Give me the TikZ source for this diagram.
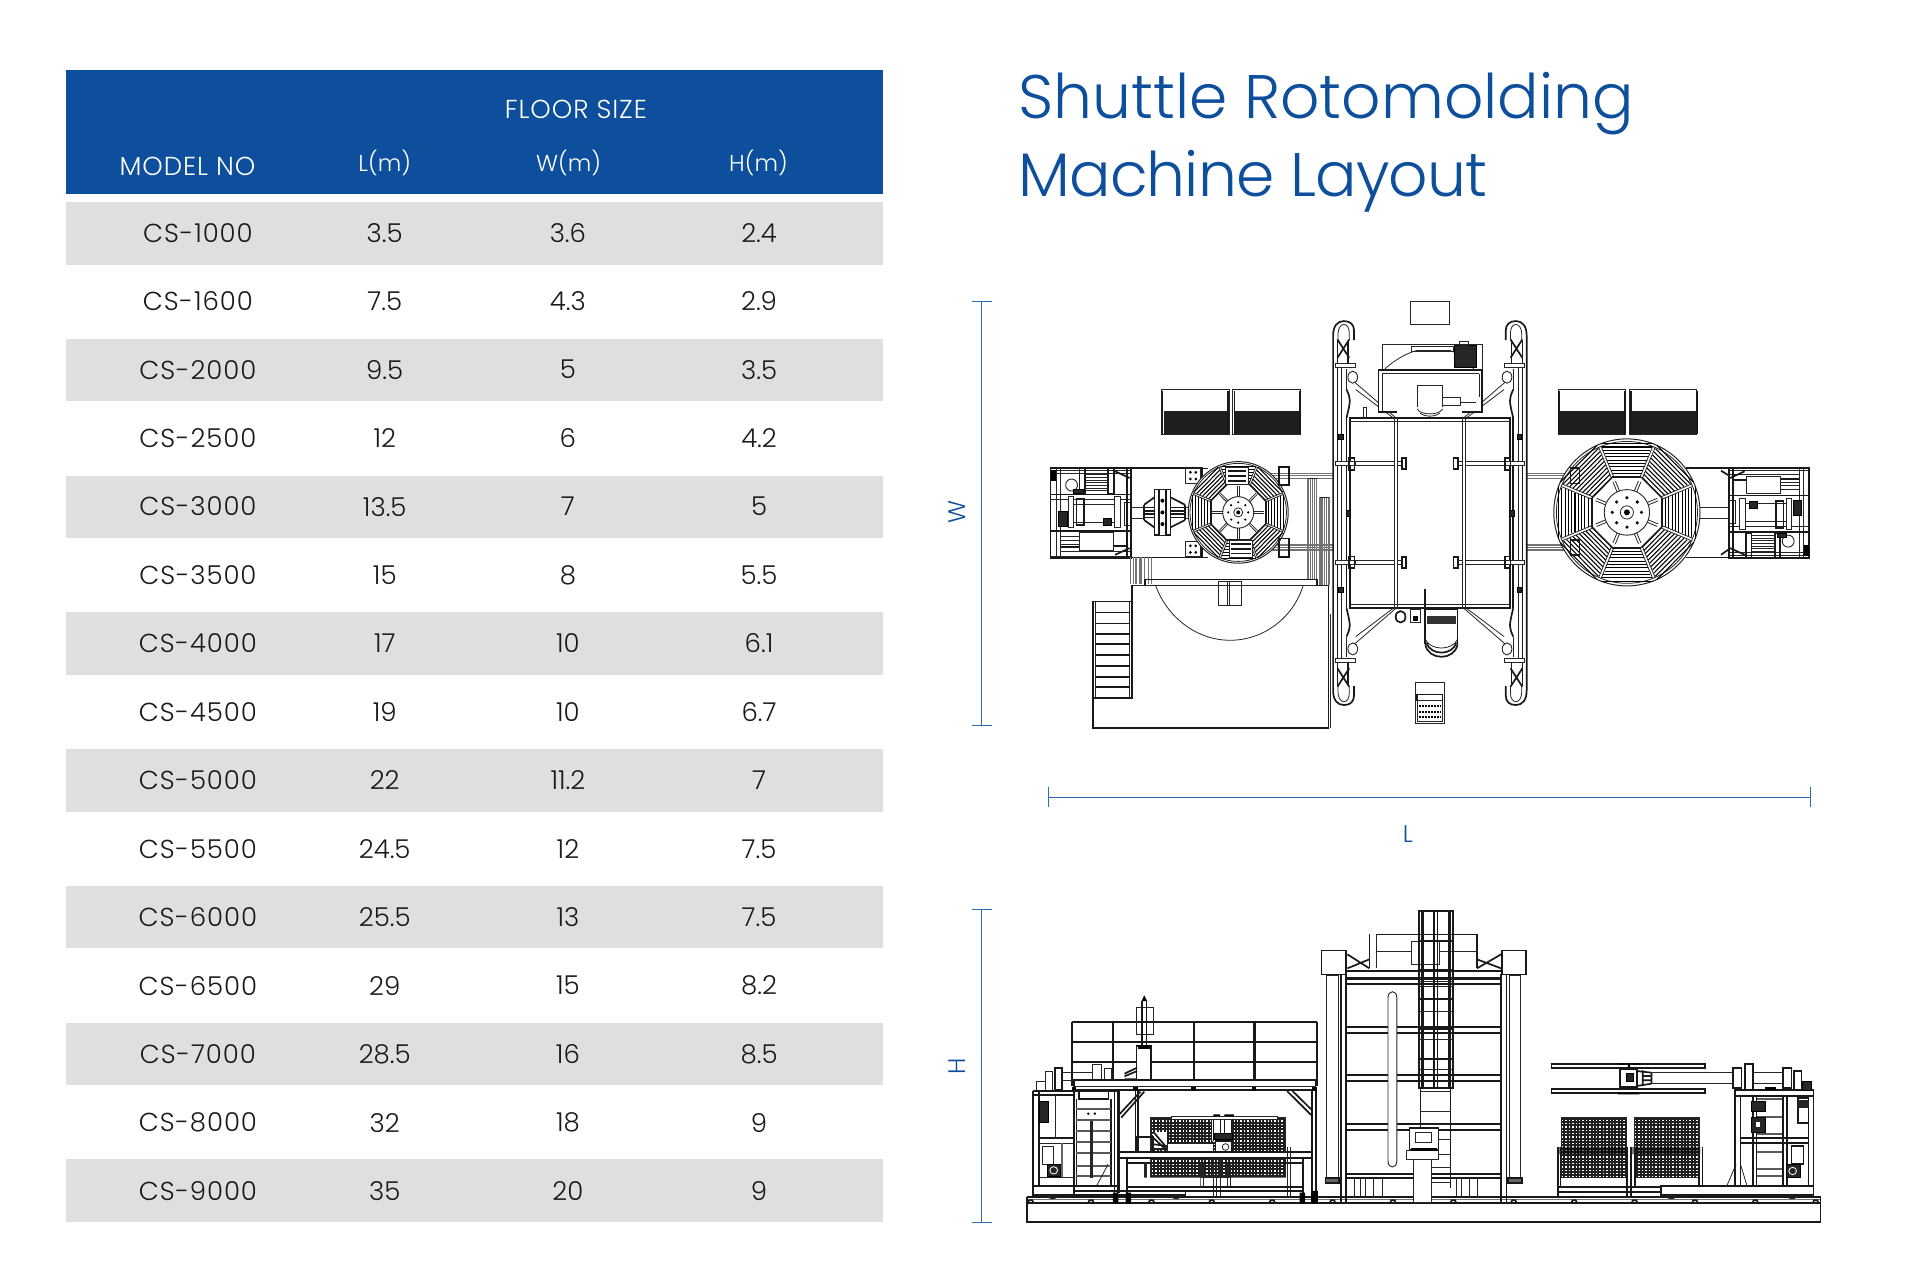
\documentclass[tikz,border=0pt]{standalone}
\usepackage{fontspec}
\setmainfont{Poppins}[UprightFont=* Light]
\newfontfamily\spacedfont{Poppins}[UprightFont=* Light, LetterSpace=3.5]
\newfontfamily\tightfont{Poppins}[UprightFont=* Light, LetterSpace=-1.4]
\usepackage{xcolor}
\usetikzlibrary{calc, positioning}
\definecolor{brandblue}{HTML}{0D4F9C}
\definecolor{dimblue}{HTML}{2A6DB5}
\definecolor{bandgray}{HTML}{DFDFDF}
\tikzset{
    ln/.style={draw=black!85, line width=0.8pt},
    hv/.style={draw=black!90, line width=1.7pt},
    xh/.style={draw=black!90, line width=2.3pt},
    gb/.style={draw=black!55, line width=1.3pt},
    dk/.style={fill=black!85, draw=black},
    wt/.style={fill=white, draw=black!85, line width=0.9pt},
    cell/.style={text=black!90, font=\fontsize{26}{26}\selectfont, anchor=center, inner sep=0pt},
    modelcell/.style={text=black!90, font=\spacedfont\fontsize{26}{26}\selectfont, anchor=center, inner sep=0pt},
    headcell/.style={text=white, font=\fontsize{23}{23}\selectfont, anchor=center, inner sep=0pt},
    headspaced/.style={text=white, font=\spacedfont\fontsize{26}{26}\selectfont, anchor=center, inner sep=0pt},
    titleline/.style={text=brandblue, font=\fontsize{61.5}{61.5}\selectfont, anchor=base west, inner sep=0pt},
    dimlabel/.style={text=brandblue, font=\fontsize{24}{24}\selectfont, inner sep=0pt},
    dimline/.style={draw=dimblue, line width=1pt}
}
% one quarter of the shuttle frame, seen from above
\newcommand{\framequarter}{
    \draw[hv] (-180,0) -- (-180,-532) .. controls (-180,-560) and (-172,-575) .. (-160,-575) .. controls (-148,-575) and (-141,-565) .. (-141,-545) -- (-141,-518);
    \draw[ln] (-171,-512) -- (-171,-535) .. controls (-171,-555) and (-165,-565) .. (-160,-565) .. controls (-154,-565) and (-150,-555) .. (-150,-540) -- (-150,-518);
    \draw[hv] (-172,0) -- (-172,-445);
    \draw[ln] (-165,0) -- (-165,-445);
    \draw[hv] (-155,0) -- (-155,-285);
    \draw[hv] (-149,0) -- (-149,-285);
    \draw[hv] (-172,-520) -- (-150,-465) (-150,-520) -- (-172,-465);
    \draw[hv] (-172,-445) -- (-172,-515) (-152,-445) -- (-152,-515);
    \draw[hv] (-155,-370) .. controls (-147,-340) .. (-155,-285);
    \draw[ln] (-156,-430) -- (-156,-370);
    \draw[wt] (-175,-447) rectangle (-138,-435);
    % cross beams
    \draw[hv] (-150,-285) -- (0,-285);
    \draw[ln] (-150,-275) -- (0,-275);
    \draw[ln] (-66,-285) -- (-66,0);
    \draw[ln] (-60,-285) -- (-60,0);
    \draw[wt] (-175,-155) rectangle (-138,-142);
    \draw[hv] (-150,-165) rectangle (-140,-130);
    \draw[ln] (-138,-154) -- (-66,-154) (-138,-143) -- (-66,-143);
    \draw[hv] (-52,-164) rectangle (-44,-132);
    \draw[ln] (-60,-154) -- (-52,-154) (-60,-143) -- (-52,-143);
    % stays
    \draw[ln] (-140,-392) -- (-63,-285) (-138,-370) -- (-68,-285);
    \draw[wt] (-143.5,-407) ellipse[x radius=9, y radius=18];
    \draw[dk] (-156,-10) rectangle (-148,10);
    \draw[dk] (-170,-237) rectangle (-162,-222);
}
% a rotating spider wheel with eight hatched sectors, unit radius
\newcommand{\wheelunit}[3]{
    \draw[wt, line width=1pt] (0,0) circle (1);
    \draw[ln] (0,0) circle (0.965);
    \pgfmathsetmacro{\octside}{#2*0.414}
    \foreach \a in {0,45,...,315} {
        \begin{scope}[rotate=\a]
            \foreach \r in {#1} {
                \draw[draw=black, line width=1.05pt] (\r,{-0.38*\r}) -- (\r,{0.38*\r});
            }
            \draw[hv] (#2,-\octside) -- (#2,\octside);
        \end{scope}
        \begin{scope}[rotate=\a+22.5]
            \draw[ln] ({#2*1.08},-0.018) -- (0.965,-0.018) ({#2*1.08},0.018) -- (0.965,0.018);
        \end{scope}
        \begin{scope}[rotate=\a+#3]
            \draw[ln] (0.3,-0.018) -- ({#2*0.95},-0.018) (0.3,0.018) -- ({#2*0.95},0.018);
        \end{scope}
    }
    \draw[wt] (0,0) circle (0.31);
    \draw[ln] (0,0) circle (0.09);
    \foreach \a in {0,45,...,315} {
        \fill[black] (\a:0.2) circle (0.024);
    }
    \fill[black] (0,0) circle (0.04);
}
% the rotating arm carriage, left hand copy in plan
\newcommand{\plancarriage}{
    \draw[hv] (58,562) rectangle (207,832);
    \draw[ln] (68,562) -- (68,832) (76,562) -- (76,832);
    \draw[ln] (58,570) -- (207,570) (58,578) -- (207,578);
    \draw[hv] (58,641) -- (207,641) (58,750) -- (207,750);
    \draw[ln] (76,812) -- (207,812) (58,826) -- (207,826) (58,656) -- (207,656);
    \draw[hv] (112,563) rectangle (122,638) (165,563) rectangle (176,638);
    \foreach \y in {582,590,598,606,614,622,630} {\draw[ln] (122,\y) -- (165,\y);}
    \fill[black] (58,568) rectangle (68,600);
    \draw[wt] (97,613) ellipse[x radius=11, y radius=18];
    \draw[dk] (100,626) rectangle (118,638);
    \draw[dk] (72,692) rectangle (88,735);
    \draw[ln] (101,672) -- (176,672) (101,725) -- (176,725);
    \draw[wt] (91,648) rectangle (101,740);
    \draw[wt] (176,648) rectangle (187,740);
    \draw[hv] (106,653) rectangle (120,733);
    \draw[wt] (196,665) rectangle (207,735);
    \draw[dk] (155,712) rectangle (170,732);
    \draw[wt] (111,756) rectangle (174,808);
    \draw[hv] (76,798) -- (111,798) (174,796) -- (200,796);
    \foreach \y in {768,780,790} {\draw[ln] (76,\y) -- (111,\y);}
    \draw[hv] (178,572) -- (205,592) (178,822) -- (205,802);
    \draw[hv] (200,562) -- (200,832);
}
% punched guard panel
\newcommand{\meshbox}[4]{
    \fill[black!88] (#1,#2) rectangle (#3,#4);
    \pgfmathsetmacro{\firsty}{#2+10}
    \pgfmathsetmacro{\secondy}{#2+20}
    \foreach \y in {\firsty,\secondy,...,#4} {
        \draw[white, line width=1.3pt, dash pattern=on 1.4pt off 2pt] (#1+2,\y) -- (#3-2,\y);
    }
    \draw[ln] (#1,#2) rectangle (#3,#4);
}
\begin{document}
\begin{tikzpicture}[x=1.2253pt, y=-1.2253pt]
\useasboundingbox (0,0) rectangle (1567,1046.3);
\fill[white] (0,0) rectangle (1567,1046.3);

% table
\fill[brandblue] (54,57) rectangle (721,158.5);
\foreach \i in {0,...,7} {
    \fill[bandgray] (54,{165+111.6*\i}) rectangle (721,{216+111.6*\i});
}
\node[headspaced] (floorsize) at (470,89) {FLOOR SIZE};
\node[headspaced] (modelno) at (153,136) {MODEL NO};
\node[headcell] (lhead) at (314,133) {L(m)};
\node[headcell] (whead) at (464,133) {W(m)};
\node[headcell] (hhead) at (619,133) {H(m)};
\foreach \m/\l/\w/\h [count=\i from 0] in {
    CS-1000/3.5/3.6/2.4, CS-1600/7.5/4.3/2.9, CS-2000/9.5/5/3.5, CS-2500/12/6/4.2,
    CS-3000/13.5/7/5, CS-3500/15/8/5.5, CS-4000/17/10/6.1, CS-4500/19/10/6.7,
    CS-5000/22/11.2/7, CS-5500/24.5/12/7.5, CS-6000/25.5/13/7.5, CS-6500/29/15/8.2,
    CS-7000/28.5/16/8.5, CS-8000/32/18/9, CS-9000/35/20/9} {
    \node[modelcell] (model\i) at (161.5,{190+55.86*\i}) {\m};
    \node[cell] (len\i) at (314,{190+55.86*\i}) {\l};
    \node[cell] (wid\i) at (463.5,{190+55.86*\i}) {\w};
    \node[cell] (hgt\i) at (619.5,{190+55.86*\i}) {\h};
}

% title
\node[titleline] (title1) at (831,97) {Shuttle Rotomolding};
\node[titleline] (title2) at (831,160) {\tightfont Machine Layout};

% dimensions
\coordinate (wtop) at (801,246);
\coordinate (wbot) at (801,592);
\coordinate (lleft) at (856,651);
\coordinate (lright) at (1478,651);
\coordinate (htop) at (801,742);
\coordinate (hbot) at (801,998);
\draw[dimline] (wtop) -- (wbot);
\draw[dimline] (lleft) -- (lright);
\draw[dimline] (htop) -- (hbot);
\draw[dimline] ($(wtop)+(-8,0)$) -- ($(wtop)+(9,0)$);
\draw[dimline] ($(wbot)+(-8,0)$) -- ($(wbot)+(9,0)$);
\draw[dimline] ($(htop)+(-8,0)$) -- ($(htop)+(9,0)$);
\draw[dimline] ($(hbot)+(-8,0)$) -- ($(hbot)+(9,0)$);
\draw[dimline] ($(lleft)+(0,-9)$) -- ($(lleft)+(0,8)$);
\draw[dimline] ($(lright)+(0,-9)$) -- ($(lright)+(0,8)$);
\node[dimlabel, rotate=90] (wlabel) at (781,418) {W};
\node[dimlabel] (llabel) at (1149,681) {L};
\node[dimlabel, rotate=90] (hlabel) at (781,870) {H};

% plan view
\begin{scope}[shift={(832,228.8)}, x=0.5376pt, y=-0.3339pt]
    % arm beams between the wheels and the frame
    \foreach \y in {578,585,593,793,800,808} {
        \draw[gb] (466,\y) -- (583,\y);
        \draw[gb] (945,\y) -- (1040,\y);
    }
    \foreach \sx in {1,-1} {
        \begin{scope}[shift={(763.5,697)}, xscale=\sx, yscale=\sx, shift={(-763.5,-697)}]
            \plancarriage
        \end{scope}
    }
    % left table
    \draw[hv] (207,562) rectangle (339,830);
    \draw[ln] (339,562) -- (350,562) (339,830) -- (350,830);
    \draw[wt] (309,563) rectangle (336,608);
    \draw[wt] (309,783) rectangle (336,828);
    \foreach \y in {575,595,795,815} {\fill[black] (318,\y) circle[radius=1.5pt] (328,\y) circle[radius=1.5pt];}
    \draw[hv] (251,626) rectangle (259,763) (273,626) rectangle (281,763);
    \draw[ln] (259,626) -- (273,626) (259,763) -- (273,763);
    \draw[hv] (232,672) -- (251,650) (232,718) -- (251,740) (308,672) -- (281,650) (308,718) -- (281,740);
    \draw[hv] (232,672) -- (232,718) (308,672) -- (308,718);
    \foreach \y in {680,690,700,710} {\draw[hv] (232,\y) -- (251,\y) (281,\y) -- (308,\y);}
    \fill[black] (266,660) circle[radius=2pt] (266,695) circle[radius=2pt] (266,730) circle[radius=2pt];
    \draw[ln] (207,680) -- (232,680) (207,712) -- (232,712) (308,680) -- (318,680) (308,712) -- (318,712);
    % right table
    \draw[hv] (1240,562) -- (1320,562) (1240,830) -- (1320,830);
    \draw[hv] (1305,570) -- (1320,585) (1305,822) -- (1320,805);
    \draw[ln] (1195,680) -- (1320,680) (1195,712) -- (1320,712);
    % wheels
    \begin{scope}[shift={(407,695)}, x=1pt, y=1pt, xscale=50, yscale=50.8]
        \wheelunit{0.61,0.67,0.73,0.79,0.85,0.91}{0.55}{0}
    \end{scope}
    \begin{scope}[shift={(1130,695)}, x=1pt, y=1pt, xscale=73.1, yscale=73.5]
        \wheelunit{0.53,0.575,0.62,0.665,0.71,0.755,0.80,0.845,0.89,0.935}{0.48}{22.5}
    \end{scope}
    \draw[wt] (384,560) rectangle (426,612);
    \draw[wt] (390,778) rectangle (434,830);
    \foreach \y in {572,586,600} {\draw[hv] (388,\y) -- (422,\y);}
    \foreach \y in {790,804,818} {\draw[hv] (394,\y) -- (430,\y);}
    \foreach \y in {558,773} {
        \draw[hv] (483,\y) rectangle (502,\y+55);
        \draw[hv] (1025,\y+5) rectangle (1042,\y+50);
    }
    % bars beside the left wheel
    \foreach \x in {537,541,545,549,553} {\draw[gb] (\x,593) -- (\x,898);}
    \foreach \x in {559,563,567,571,576} {\draw[gb] (\x,650) -- (\x,913);}
    \draw[ln] (537,593) -- (553,593) (559,650) -- (576,650);
    \foreach \x in {207,212,217,224,227,233,240,246} {\draw[gb] (\x,830) -- (\x,908);}
    % platform
    \draw[hv] (233,912) -- (233,896) -- (553,896) -- (553,912);
    \draw[ln] (210,913) -- (575,913);
    \draw[hv] (210,913) -- (210,1250) -- (137,1250) (575,913) -- (575,1340) -- (137,1340) -- (137,962) -- (210,962);
    \draw[ln] (579,1000) -- (579,1340);
    \draw[ln] (142,962) -- (142,1250) (205,962) -- (205,1250);
    \foreach \y in {995,1028,1060,1090,1122,1155,1187,1218} {\draw[hv] (142,\y) -- (205,\y);}
    \draw[ln] (253,913) .. controls (275,1010) and (330,1078) .. (392,1078) .. controls (454,1078) and (510,1010) .. (528,913);
    \draw[ln] (370,902) rectangle (413,975) (386,902) -- (386,975) (391,902) -- (391,975);
    % the frame, four times
    \foreach \sx/\sy in {1/1,-1/1,1/-1,-1/-1} {
        \begin{scope}[shift={(763.5,697)}, xscale=\sx, yscale=\sy]
            \framequarter
        \end{scope}
    }
    % top box
    \draw[ln] (727,63) rectangle (800,133);
    % oven end
    \draw[ln] (675,193) -- (675,265) (675,193) -- (862,193) -- (862,265);
    \draw[ln] (680,265) .. controls (700,235) and (725,215) .. (740,210) -- (800,210) .. controls (815,215) and (830,240) .. (845,265);
    \draw[ln] (730,197) rectangle (808,212);
    \draw[dk] (808,195) rectangle (850,260);
    \draw[ln] (818,182) rectangle (836,195);
    \draw[wt, hv] (668,268) rectangle (860,395);
    \draw[ln] (675,280) -- (855,280) (675,280) -- (675,390) (855,280) -- (855,350);
    \draw[wt] (740,316) rectangle (787,385);
    \draw[wt] (740,385) .. controls (745,410) and (782,410) .. (787,385);
    \draw[ln] (787,350) rectangle (820,375) (820,365) -- (850,365);
    \draw[ln] (640,382) rectangle (646,412);
    \fill[white] (703,380) rectangle (824,410);
    \draw[ln] (745,398) .. controls (755,410) and (772,410) .. (782,398);
    \draw[ln] (740,385) .. controls (745,405) and (782,405) .. (787,385);
    % shuttle tail
    \draw[hv] (755,925) -- (755,985);
    \fill[white] (753,985) rectangle (817,1085);
    \draw[hv] (755,985) -- (755,1090) (815,985) -- (815,1090) (755,985) -- (815,985);
    \fill[black!80] (758,1005) rectangle (812,1028);
    \draw[hv] (755,1090) .. controls (760,1140) and (810,1140) .. (815,1090);
    \draw[hv] (757,1085) .. controls (765,1125) and (805,1125) .. (813,1085);
    \draw[ln] (755,1075) .. controls (765,1110) and (805,1110) .. (815,1075);
    \draw[hv] (700,1008) .. controls (700,985) and (718,985) .. (718,1008) .. controls (718,1030) and (700,1030) .. (700,1008);
    \draw[ln] (728,985) rectangle (745,1025);
    \fill[black] (732,1005) rectangle (742,1020);
    % controller
    \draw[ln] (737,1205) rectangle (790,1328);
    \draw[hv] (740,1240) rectangle (787,1258);
    \draw[ln] (740,1258) rectangle (787,1320);
    \foreach \y in {1275,1292,1308} {
        \draw[black, line width=2pt, dash pattern=on 2pt off 1pt] (744,\y) -- (784,\y);
    }
    % coolers
    \foreach \x in {265,397,1003,1135} {
        \draw[ln] (\x,328) rectangle (\x+125,460);
        \fill[black!88] (\x+3,390) rectangle (\x+123,460);
    }
    \foreach \x in {266,388,400,522,1004,1126,1138,1260} {
        \draw[hv] (\x,330) -- (\x,460);
    }
\end{scope}

% side view
\begin{scope}[shift={(816.5,727.2)}, x=0.549pt, y=-0.3333pt]
    % base and rail
    \draw[hv] (48,935) rectangle (1494,992);
    \draw[hv] (48,918) -- (1494,918);
    \draw[gb] (48,925) -- (1494,925);
    \draw[hv] (48,918) -- (48,935) (1494,918) -- (1494,935);
    \foreach \x in {55,165,275,385,495,605,715,825,935,1045,1155,1265,1375,1485} {
        \draw[hv] (\x-5,935) -- (\x-3,928) -- (\x+3,928) -- (\x+5,935);
    }
    % tower columns
    \foreach \x in {594,927} {
        \draw[ln, fill=white] (\x,252) rectangle (\x+21,870);
    }
    \draw[hv, fill=black!60] (592,860) -- (617,860) -- (617,877) -- (592,877) -- cycle;
    \draw[hv, fill=black!60] (925,860) -- (950,860) -- (950,877) -- (925,877) -- cycle;
    \foreach \x in {620,912} {
        \draw[hv] (\x,250) -- (\x,935);
        \draw[hv] (\x+10,250) -- (\x+10,935);
    }
    \foreach \y in {408,553,700} {
        \draw[xh] (630,\y) -- (912,\y) (630,\y+18) -- (912,\y+18);
    }
    \draw[xh] (630,262) -- (912,262) (630,278) -- (912,278);
    \draw[xh] (630,848) -- (912,848) (630,860) -- (912,860);
    \draw[xh] (620,240) -- (922,240);
    \foreach \x in {645,655,665,680,695,830,840,855,868} {
        \draw[ln] (\x,862) -- (\x,918);
    }
    % top railing
    \draw[hv] (672,130) -- (672,230) (685,130) -- (868,130) (868,130) -- (868,230);
    \draw[ln] (685,130) -- (685,230) (685,182) -- (868,182);
    \draw[wt] (748,150) rectangle (800,220);
    \draw[hv] (632,190) -- (672,232) (632,232) -- (672,205) (912,190) -- (868,232) (912,232) -- (868,205);
    \draw[wt, hv] (585,178) rectangle (630,250);
    \draw[wt, hv] (913,178) rectangle (957,250);
    % long tube
    \draw[wt] (706,320) .. controls (706,296) and (722,296) .. (722,320) -- (722,810) .. controls (722,834) and (706,834) .. (706,810) -- cycle;
    % ladder
    \draw[xh] (763,60) -- (763,590) (769,60) -- (769,590) (818,60) -- (818,590) (824,60) -- (824,590);
    \draw[hv] (790,60) -- (790,590) (796,60) -- (796,590);
    \draw[xh] (760,60) -- (827,60);
    \foreach \y in {150,238,325,413,503,590} {
        \draw[xh] (760,\y) -- (827,\y);
    }
    \foreach \y in {270,285,360,445,535} {
        \draw[ln] (764,\y) -- (824,\y);
    }
    \draw[hv] (765,590) -- (765,710) (820,590) -- (820,890);
    \foreach \y in {600,660,700,745,790,830,875} {
        \draw[ln] (765,\y) -- (820,\y);
    }
    % control desk
    \draw[wt] (752,805) rectangle (785,935);
    \draw[wt, hv] (745,710) rectangle (798,778);
    \draw[ln] (755,725) rectangle (785,755);
    \draw[wt] (740,778) rectangle (798,805);
    \fill[black] (748,770) rectangle (795,780);
    % left screen
    \foreach \x in {130,205,353,463,576} {
        \draw[xh] (\x,393) -- (\x,585);
    }
    \foreach \y in {393,453,513} {
        \draw[xh] (130,\y) -- (576,\y);
    }
    % things standing on the deck
    \draw[wt] (167,520) rectangle (184,568);
    \draw[wt] (190,532) rectangle (203,568);
    \draw[ln] (112,545) -- (167,545) (112,568) -- (167,568);
    \draw[wt] (65,570) rectangle (84,598);
    \draw[wt] (82,540) rectangle (94,598);
    \draw[wt, hv] (99,532) rectangle (112,598);
    \draw[wt, hv] (134,568) rectangle (574,598);
    \draw[ln] (134,585) -- (574,585);
    \foreach \x in {134,246,352,462,572} {
        \fill[black] (\x-4,588) rectangle (\x+4,600);
    }
    % hoist pole
    \draw[ln] (247,350) rectangle (278,430);
    \draw[hv] (258,330) -- (258,465) (266,330) -- (266,465);
    \fill[black] (262,313) -- (257,330) -- (267,330) -- cycle;
    \draw[wt, hv] (248,465) rectangle (274,568);
    \fill[black] (250,463) rectangle (272,475);
    \draw[hv] (226,548) -- (249,530) (226,556) -- (249,540) (226,565) -- (249,565);
    % posts below the deck
    \draw[hv] (215.5,600) -- (215.5,905) (568,600) -- (568,905) (575,600) -- (575,915);
    \draw[hv] (215.5,672) -- (255,602) (220,680) -- (262,602);
    \draw[hv] (522,600) -- (566,672) (532,600) -- (566,655);
    \draw[hv] (246,600) -- (246,783) (250,600) -- (250,783);
    % guard behind the table
    \meshbox{274}{680}{519}{860}
    \fill[white] (385,685) rectangle (422,750);
    \draw[hv] (388,685) -- (388,750) (401,685) -- (401,750) (408,685) -- (408,750) (421,685) -- (421,750);
    \draw[wt] (311,675) rectangle (504,685);
    \fill[black] (388,670) rectangle (400,675) (408,670) rectangle (425,675);
    \draw[dk] (390,728) rectangle (422,745);
    \draw[wt] (303.5,758) rectangle (388.5,783);
    \draw[wt, hv] (391.5,750) rectangle (422,785);
    \draw[ln] (410,768) ellipse[x radius=6, y radius=10];
    \fill[white] (278,722) rectangle (303,770);
    \draw[hv] (278,722) -- (303,770) (278,740) -- (303,778) (280,760) -- (303,765);
    \draw[hv] (248,738) rectangle (278,783);
    \draw[wt, hv] (215.5,783) rectangle (568,800);
    \draw[hv] (231,802) -- (551,802) (231,815) -- (551,815);
    \draw[hv] (231,802) -- (231,918) (551,802) -- (551,918);
    \draw[line width=3pt, black!85] (264,815) -- (264,887);
    \draw[ln] (365,815) -- (365,887) (370,815) -- (370,887) (387,800) -- (387,918) (401,800) -- (401,918) (394,800) -- (394,918) (413,815) -- (413,887) (418,815) -- (418,887) (522,768) -- (522,918) (528,768) -- (528,918);
    \fill[white] (233,860) rectangle (364,886) (420,860) rectangle (520,886);
    \draw[hv] (231,887) -- (551,887) (231,900) -- (551,900);
    % left carriage
    \draw[hv] (59,600) -- (215,600);
    \draw[hv] (59,600) -- (59,885);
    \draw[hv] (70,600) -- (70,885) (134,600) -- (134,885);
    \draw[ln] (101,612) -- (101,740);
    \draw[hv] (59,612) -- (134,612);
    \draw[dk] (70,630) rectangle (87,695);
    \draw[hv] (70,740) -- (134,740);
    \draw[ln] (70,757) -- (134,757) (70,858) -- (134,858);
    \draw[line width=2.4pt, black!60] (112,757) -- (112,858);
    \draw[wt] (76,765) rectangle (97,820);
    \draw[dk] (86,820) rectangle (109,855);
    \draw[white, line width=0.8pt] (97,838) ellipse[x radius=7, y radius=11];
    % stair on the carriage
    \draw[hv] (138.4,625) -- (138.4,885) (201.5,625) -- (201.5,885);
    \draw[hv] (143,600) rectangle (197,625);
    \draw[hv] (208,600) -- (208,905) (214,600) -- (214,905);
    \foreach \y in {655,688,720,753,785,825,855} {
        \draw[line width=2.2pt, black!65] (138.4,\y) -- (201.5,\y);
    }
    \draw[line width=2.6pt, black!85] (166,690) -- (166,860);
    \draw[ln] (175,885) -- (196,820);
    \fill[black] (160,668) circle[radius=1.3pt] (172,668) circle[radius=1.3pt];
    % carriage bed
    \draw[wt, hv] (59,885) rectangle (134,913);
    \draw[hv] (134,885) -- (215,885) (134,900) -- (215,900);
    \draw[hv] (215,900) -- (337,900) -- (337,913) -- (134,913);
    \foreach \x in {95,320} {
        \draw[ln] (\x,918) ellipse[x radius=8, y radius=5];
    }
    \fill[black] (205,905) rectangle (215,938) (228,905) rectangle (238,938) (566,900) rectangle (578,938) (545,905) rectangle (555,938);
    % right wheel, side on
    \draw[wt, hv] (1004,520) rectangle (1283,532);
    \draw[wt, hv] (1004,593) rectangle (1283,605);
    \draw[wt, hv] (1129,535) rectangle (1159,588);
    \draw[dk] (1140,548) rectangle (1152,572);
    \draw[hv] (1159,540) -- (1186,545) (1159,585) -- (1186,578) (1170,538) -- (1170,585) (1186,545) -- (1186,578) (1170,555) -- (1186,555) (1170,568) -- (1186,568);
    \draw[ln] (1186,545) -- (1335,545) (1186,578) -- (1335,578);
    \fill[black] (1125,517) rectangle (1138,521) (1143,517) rectangle (1147,530) (1152,517) rectangle (1164,521) (1125,605) rectangle (1164,610);
    % right guards
    \meshbox{1021}{678}{1140}{860}
    \meshbox{1154}{678}{1273}{860}
    \fill[black, opacity=0.5] (1017,768) rectangle (1143,790) (1150,768) rectangle (1275,790);
    \draw[hv] (1015,768) -- (1015,920) (1020,768) -- (1020,887) (1141,768) -- (1141,920) (1148,768) -- (1148,920) (1156,768) -- (1156,887) (1273,768) -- (1273,887) (1279,768) -- (1279,887);
    \draw[hv] (1015,887) -- (1203,887) (1015,902) -- (1203,902);
    % right carriage
    \draw[hv] (1338,598) rectangle (1481,615);
    \foreach \x in {1338,1348,1472,1481} {
        \draw[hv] (\x,615) -- (\x,885);
    }
    \draw[ln] (1323,885) -- (1340,820) (1360,885) -- (1348,820);
    \draw[hv] (1348,740) -- (1472,740) (1348,757) -- (1472,757);
    \foreach \y in {625,678,730,783,833,855} {
        \draw[line width=2.2pt, black!65] (1377,\y) -- (1426,\y);
    }
    \draw[hv] (1371,615) -- (1371,885);
    \draw[hv] (1377,615) -- (1377,885) (1426,615) -- (1426,885) (1433,615) -- (1433,885);
    \draw[dk] (1368,630) rectangle (1393,660);
    \draw[dk] (1368,680) rectangle (1393,725);
    \draw[wt] (1375,690) rectangle (1385,710);
    \fill[black] (1392,598) rectangle (1412,588);
    \draw[hv] (1453,620) rectangle (1472,695);
    \fill[black!85] (1453,628) rectangle (1472,650);
    \draw[wt, hv] (1441,765) rectangle (1463,820);
    \draw[dk] (1432,820) rectangle (1456,860);
    \draw[white, line width=0.8pt] (1443,840) ellipse[x radius=7, y radius=11];
    \draw[wt, hv] (1335,532) rectangle (1350,590);
    \draw[wt, hv] (1356,520) rectangle (1371,598);
    \draw[ln] (1371,545) -- (1426,545) (1371,578) -- (1426,578);
    \draw[wt, hv] (1426,532) rectangle (1441,590);
    \draw[wt, hv] (1445,540) rectangle (1459,598);
    \draw[dk] (1461,570) rectangle (1476,598);
    \draw[wt, hv] (1203,885) rectangle (1481,913);
    \foreach \x in {1222,1442} {
        \draw[ln] (\x,918) ellipse[x radius=8, y radius=5];
    }
\end{scope}
\end{tikzpicture}
\end{document}
